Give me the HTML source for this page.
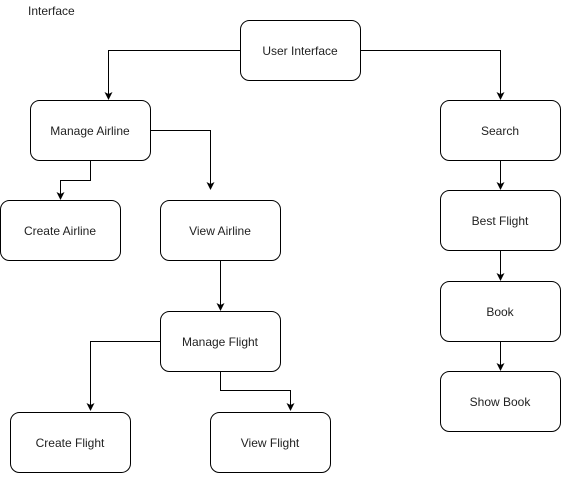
<!DOCTYPE html>
<html><head><style>
body{margin:0;background:#fff;width:562px;height:473px;overflow:hidden}
svg text{font-family:"Liberation Sans",sans-serif;font-size:12px;fill:#222}
</style></head><body>
<svg width="562" height="473" viewBox="0 0 562 473" xmlns="http://www.w3.org/2000/svg">
<defs><marker id="a" markerWidth="8" markerHeight="8" refX="7" refY="4" orient="auto" markerUnits="userSpaceOnUse"><path d="M0,0 L8,4 L0,8 L2,4 Z" fill="#000"/></marker></defs>
<g fill="#fff" stroke="#000" stroke-width="1">
<rect x="240.5" y="20.5" width="120" height="60" rx="9"/>
<rect x="30.5" y="100.5" width="120" height="60" rx="9"/>
<rect x="440.5" y="100.5" width="120" height="60" rx="9"/>
<rect x="0.5" y="200.5" width="120" height="60" rx="9"/>
<rect x="160.5" y="200.5" width="120" height="60" rx="9"/>
<rect x="440.5" y="190.5" width="120" height="60" rx="9"/>
<rect x="440.5" y="281.5" width="120" height="60" rx="9"/>
<rect x="160.5" y="311.5" width="120" height="60" rx="9"/>
<rect x="440.5" y="371.5" width="120" height="60" rx="9"/>
<rect x="10.5" y="412.5" width="120" height="60" rx="9"/>
<rect x="210.5" y="412.5" width="120" height="60" rx="9"/>
</g>
<g fill="none" stroke="#000" stroke-width="1" marker-end="url(#a)">
<path d="M240 50.5 H108.5 V99"/>
<path d="M360 50.5 H500.5 V99"/>
<path d="M150 130.5 H210.5 V189"/>
<path d="M90.5 160 V180.5 H60.5 V199"/>
<path d="M220.5 260 V310"/>
<path d="M160 341.5 H90.5 V410"/>
<path d="M220.5 371 V390.5 H290.5 V410"/>
<path d="M500.5 160 V189"/>
<path d="M500.5 250 V280"/>
<path d="M500.5 341 V370"/>
</g>
<g text-anchor="middle">
<text x="300" y="55">User Interface</text>
<text x="90" y="135">Manage Airline</text>
<text x="500" y="135">Search</text>
<text x="60" y="235">Create Airline</text>
<text x="220" y="235">View Airline</text>
<text x="500" y="225">Best Flight</text>
<text x="500" y="316">Book</text>
<text x="220" y="346">Manage Flight</text>
<text x="500" y="406">Show Book</text>
<text x="70" y="447">Create Flight</text>
<text x="270" y="447">View Flight</text>
</g>
<text x="28" y="15">Interface</text>
</svg>
</body></html>
